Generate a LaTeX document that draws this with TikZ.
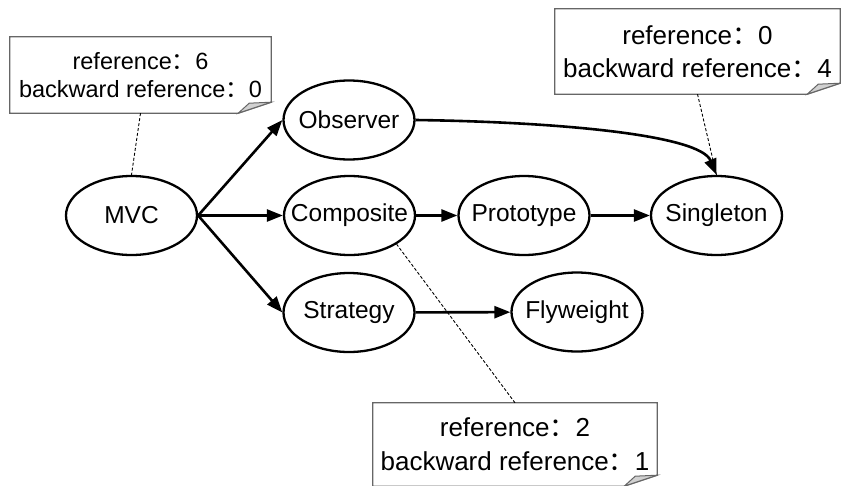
\documentclass[tikz,border=0pt]{standalone}
\usepackage{fontspec}
\setmainfont{Liberation Sans}
\newfontfamily\cjk{Noto Sans CJK SC}
\usetikzlibrary{arrows.meta,shapes.geometric}
% full-width colon used in the reference counters
\newcommand\fwc{{\cjk ：}}

\begin{document}
\begin{tikzpicture}[x=1pt,y=-1pt,
  pattern/.style={ellipse, draw, line width=2.3pt, minimum width=131pt,
    minimum height=79pt, inner sep=0pt, font=\fontsize{24.5}{28}\selectfont},
  link/.style={line width=2.6pt, -{Triangle[length=16pt,width=12pt]}},
  notebox/.style={rectangle, inner sep=0pt, align=center},
  noteedge/.style={draw=black!60, line width=1.3pt},
  fold/.style={fill=black!18, draw=black!60, line width=1pt},
  tether/.style={line width=0.9pt, dash pattern=on 3pt off 2pt}
]
\fill[white] (0,0) rectangle (841,485);
\useasboundingbox (0,0) rectangle (841,485);

% design patterns
\node[pattern] (mvc)  at (131.5,215.5) {\makebox[0pt]{MVC}};
\node[pattern] (obs)  at (349,120)     {\makebox[0pt]{Observer}};
\node[pattern] (comp) at (349.5,215.5) {\makebox[0pt]{Composite}};
\node[pattern] (strat) at (349,312.5)  {\makebox[0pt]{Strategy}};
\node[pattern] (proto) at (524,215.5)  {\makebox[0pt]{Prototype}};
\node[pattern] (sing) at (716.5,215.5) {\makebox[0pt]{Singleton}};
\node[pattern] (fly)  at (577,312)     {\makebox[0pt]{Flyweight}};

% dependencies
\draw[link] (mvc.east) -- (obs.west);
\draw[link] (mvc.east) -- (comp.west);
\draw[link] (mvc.east) -- (strat.west);
\draw[link] (comp) -- (proto);
\draw[link] (proto) -- (sing);
\draw[link] (strat) -- (fly);
\draw[link] (obs.east) .. controls (560,122) and (700,135) .. (sing.north);

% reference counters
\node[notebox, minimum width=261pt, minimum height=76pt,
  font=\fontsize{23.5}{28}\selectfont] (n1) at (140.5,75)
  {reference\fwc 6\\backward reference\fwc 0};
\node[notebox, minimum width=285pt, minimum height=85pt,
  font=\fontsize{26}{33}\selectfont] (n2) at (697.5,51.5)
  {reference\fwc 0\\backward reference\fwc 4};
\node[notebox, minimum width=284pt, minimum height=83pt,
  font=\fontsize{26}{34}\selectfont] (n3) at (515,444.5)
  {reference\fwc 2\\backward reference\fwc 1};

\foreach \n in {n1,n2,n3} {
  \draw[noteedge] (\n.north west) -- (\n.north east)
    -- ([yshift=11pt]\n.south east) -- ([xshift=-33pt]\n.south east)
    -- (\n.south west) -- cycle;
  \draw[fold] ([yshift=11pt]\n.south east)
    -- ([xshift=-22pt,yshift=10pt]\n.south east)
    -- ([xshift=-33pt]\n.south east) -- cycle;
}

% note tethers
\draw[tether] (n1.south) -- (mvc.north);
\draw[tether] (n2.south) -- (sing.north);
\draw[tether] (n3.north) -- (comp.south east);
\end{tikzpicture}
\end{document}
